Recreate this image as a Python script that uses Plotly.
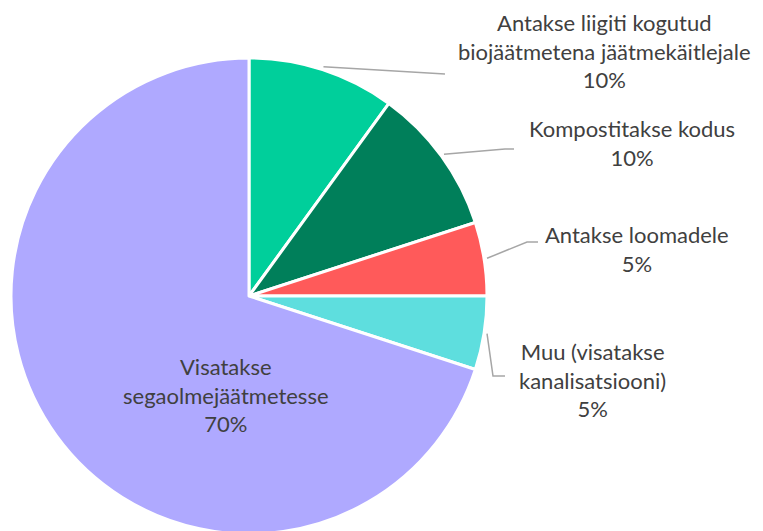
import math
import plotly.graph_objects as go

categories = [
    "Antakse liigiti kogutud<br>biojäätmetena jäätmekäitlejale",
    "Kompostitakse kodus",
    "Antakse loomadele",
    "Muu (visatakse<br>kanalisatsiooni)",
    "Visatakse<br>segaolmejäätmetesse",
]
values = [10, 10, 5, 5, 70]
colors = ["#00CF9B", "#007F5A", "#FF5A5A", "#5EDEDE", "#AFA9FF"]

W, H = 763, 531
OFF = 8  # page body margin
CX, CY, R = 249, 296, 238  # in screen pixels

label_pos = [(604, 51), (632, 143), (637, 249), (592, 380), (226, 395)]
elbows = [[(445, 74)], [(505, 149), (514, 149)], [(527, 242), (538, 242)],
          [(493, 376), (505, 376)], None]


def px(x, y):
    return (x - OFF) / W, 1 - (y - OFF) / H


x0, y1 = px(CX - R, CY - R)
x1, y0 = px(CX + R, CY + R)

fig = go.Figure(go.Pie(
    labels=[c.replace("<br>", " ") for c in categories],
    values=values,
    sort=False,
    direction="clockwise",
    rotation=0,
    marker=dict(colors=colors, line=dict(color="white", width=3)),
    textinfo="none",
    hoverinfo="label+percent",
    domain=dict(x=[x0, x1], y=[max(y0, 0), y1]),
    showlegend=False,
))

total = sum(values)
cum = 0
annotations = []
shapes = []
for i, (cat, v) in enumerate(zip(categories, values)):
    mid = (cum + v / 2) / total * 2 * math.pi
    cum += v
    pct = f"{round(v / total * 100)}%"
    lx, ly = label_pos[i]
    ax_, ay_ = px(lx, ly)
    annotations.append(dict(
        x=ax_, y=ay_, xref="paper", yref="paper", text=f"{cat}<br>{pct}",
        showarrow=False, xanchor="center", yanchor="middle", align="center",
        font=dict(family="Lato", size=22, color="#404040"),
    ))
    if elbows[i] is not None:
        sx = CX + (R + 3) * math.sin(mid)
        sy = CY - (R + 3) * math.cos(mid)
        pts = [(sx, sy)] + elbows[i]
        path = "M " + " L ".join(f"{px(x, y)[0]},{px(x, y)[1]}" for x, y in pts)
        shapes.append(dict(type="path", path=path, xref="paper", yref="paper",
                           line=dict(color="#A6A6A6", width=1.5)))

fig.update_layout(
    width=W, height=H,
    margin=dict(l=0, r=0, t=0, b=0),
    paper_bgcolor="white",
    annotations=annotations,
    shapes=shapes,
)

fig.write_html("out.html")
